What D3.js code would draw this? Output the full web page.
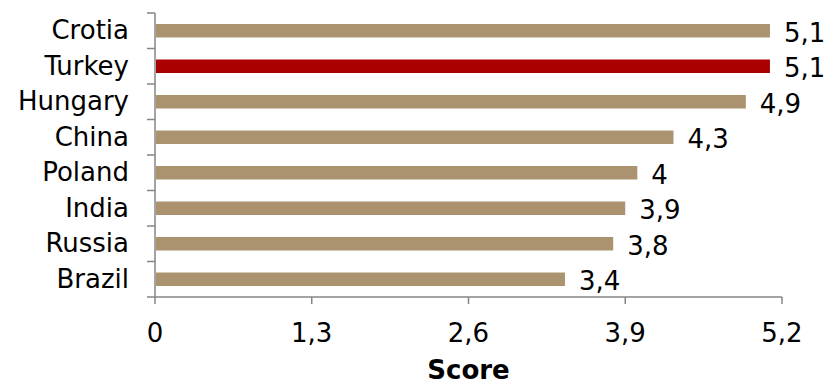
<!DOCTYPE html>
<html><head><meta charset="utf-8">
<script src="https://cdn.jsdelivr.net/npm/d3@7"></script>
<style>body{margin:0;background:#fff}svg{display:block}text{font-family:"DejaVu Sans",Verdana,sans-serif;fill:#000}</style>
</head><body>
<svg id="c" width="839" height="385"></svg>
<script>
const categories = ["Crotia","Turkey","Hungary","China","Poland","India","Russia","Brazil"];
const values = [5.1,5.1,4.9,4.3,4.0,3.9,3.8,3.4];
const valueLabels = ["5,1","5,1","4,9","4,3","4","3,9","3,8","3,4"];
const xTicks = [0,1.3,2.6,3.9,5.2];
const xTickLabels = ["0","1,3","2,6","3,9","5,2"];
const highlight = "Turkey";
const axisTitle = "Score";

(function(){
const svg = d3.select("#c");
const mL = 155, mR = 782, mT = 13, mB = 297;
const fs = 26;
const x = d3.scaleLinear().domain([0,5.2]).range([mL,mR]);
const y = d3.scaleBand().domain(categories).range([mT,mB]).paddingInner(0.62).paddingOuter(0.31);
const yb = d3.scaleBand().domain(categories).range([mT,mB]);

svg.selectAll("rect.bar").data(categories).join("rect")
  .attr("class","bar")
  .attr("x", x(0)+1)
  .attr("y", d=>y(d))
  .attr("width", (d,i)=>x(values[i])-x(0)-1)
  .attr("height", y.bandwidth())
  .attr("fill", d=> d===highlight ? "#AA0000" : "#AB9370");

svg.selectAll("text.val").data(categories).join("text")
  .attr("class","val")
  .attr("x", (d,i)=>x(values[i])+14)
  .attr("y", d=>y(d)+y.bandwidth()/2+11)
  .attr("font-size",fs)
  .text((d,i)=>valueLabels[i]);

const ax = "#868686";
svg.append("line").attr("x1",mL).attr("x2",mL).attr("y1",mT).attr("y2",mB).attr("stroke",ax).attr("stroke-width",1.5);
const bounds = categories.map(d=>yb(d)).concat([mB]);
svg.selectAll("line.yt").data(bounds).join("line").attr("class","yt")
  .attr("x1",mL-8).attr("x2",mL).attr("y1",d=>d).attr("y2",d=>d).attr("stroke",ax).attr("stroke-width",1.5);
svg.selectAll("text.yl").data(categories).join("text").attr("class","yl")
  .attr("x",mL-26).attr("y",d=>yb(d)+yb.bandwidth()/2+8.5)
  .attr("text-anchor","end").attr("font-size",fs).text(d=>d);
svg.append("line").attr("x1",mL).attr("x2",mR).attr("y1",mB).attr("y2",mB).attr("stroke",ax).attr("stroke-width",1.5);
svg.selectAll("line.xt").data(xTicks).join("line").attr("class","xt")
  .attr("x1",d=>x(d)).attr("x2",d=>x(d)).attr("y1",mB).attr("y2",mB+7).attr("stroke",ax).attr("stroke-width",1.5);
svg.selectAll("text.xl").data(xTicks).join("text").attr("class","xl")
  .attr("x",d=>x(d)).attr("y",342).attr("text-anchor","middle").attr("font-size",fs)
  .text((d,i)=>xTickLabels[i]);
svg.append("text").attr("x",(mL+mR)/2).attr("y",379).attr("text-anchor","middle")
  .attr("font-size",fs).attr("font-weight","bold").text(axisTitle);
})();
</script>
</body></html>
